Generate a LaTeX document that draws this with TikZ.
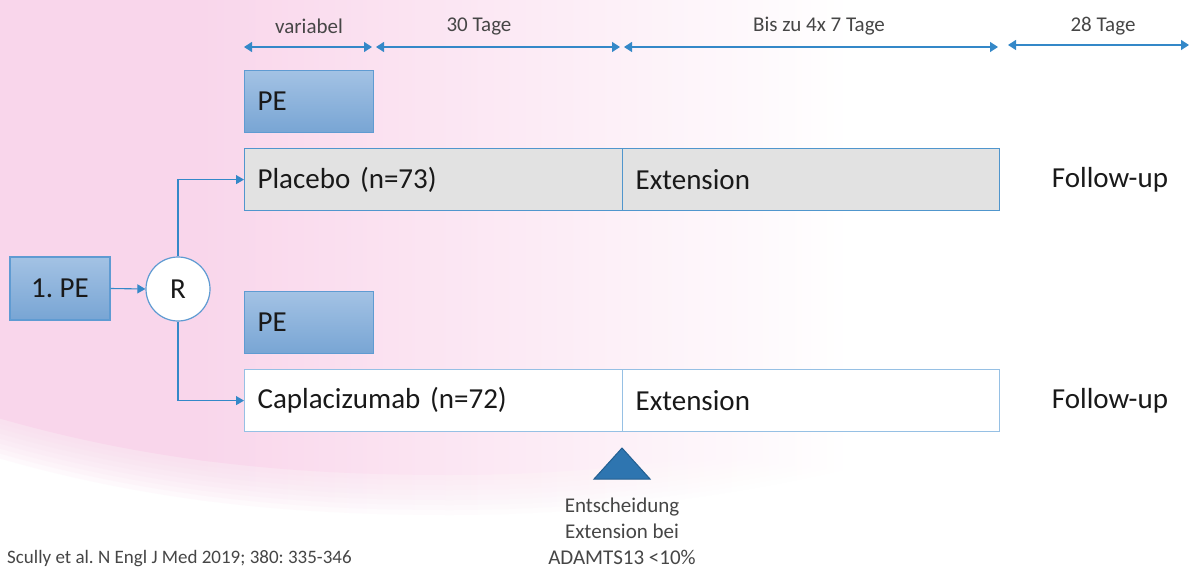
\documentclass[tikz,border=0pt]{standalone}
\usepackage{fontspec}
\setmainfont{Carlito}
\usetikzlibrary{arrows.meta}
\definecolor{pinkbg}{RGB}{249,214,235}
\definecolor{arrowblue}{RGB}{52,136,200}
\definecolor{peTop}{RGB}{163,194,228}
\definecolor{peBot}{RGB}{120,165,212}
\definecolor{peBorder}{RGB}{95,155,210}
\definecolor{plBorder}{RGB}{80,150,205}
\definecolor{capBorder}{RGB}{150,192,228}
\definecolor{greyfill}{RGB}{226,226,226}
\definecolor{triFill}{RGB}{46,117,176}
\definecolor{triBorder}{RGB}{35,95,145}
\definecolor{txt}{RGB}{25,25,25}
\definecolor{txtlight}{RGB}{70,70,70}
\frenchspacing
\begin{document}
\begin{tikzpicture}[x=1pt,y=-1pt,
  bigfont/.style={font=\fontsize{29}{34}\selectfont, text=txt},
  dimfont/.style={font=\fontsize{21}{25}\selectfont, text=txtlight},
  smallfont/.style={font=\fontsize{21}{26}\selectfont, text=txtlight},
  conn/.style={draw=arrowblue, line width=1.1pt, -{Triangle[length=8pt,width=9pt]}},
  dimarrow/.style={draw=arrowblue, line width=1.2pt, {Triangle[length=8pt,width=10pt]}-{Triangle[length=8pt,width=10pt]}},
  pebox/.style={bigfont, draw=peBorder, line width=1.2pt, top color=peTop, bottom color=peBot,
     minimum height=62pt, inner xsep=13pt, inner ysep=0pt, align=left, anchor=north west},
  armbox/.style={bigfont, line width=1.2pt, minimum height=62pt, inner xsep=13pt, inner ysep=0pt,
     align=left, anchor=north west}
]
\useasboundingbox (0,0) rectangle (1190,569);
% background
\fill[white] (0,0) rectangle (1190,569);
\foreach \d/\o in {40/0.13, 35/0.13, 30/0.13, 25/0.13, 20/0.13, 15/0.13, 10/0.13, 5/0.13, 0/1} {
  \begin{scope}[transparency group, opacity=\o]
    \clip[shift={(0,\d-30)}] (-60,-60) -- (-60,430) .. controls (120,490) and (280,505) .. (450,505)
       .. controls (650,505) and (850,470) .. (1050,400) -- (1050,-60) -- cycle;
    \fill[pinkbg] (-60,-60) rectangle (210,600);
    \shade[left color=pinkbg, right color=white] (200,-60) rectangle (850,600);
  \end{scope}
}
% timeline arrows
\coordinate (a0) at (244,47);
\coordinate (a1) at (372,47);
\coordinate (b0) at (376,47);
\coordinate (b1) at (620,47);
\coordinate (c0) at (624,47);
\coordinate (c1) at (998,47);
\coordinate (d0) at (1008,45);
\coordinate (d1) at (1189,45);
\draw[dimarrow] (a0) -- (a1);
\draw[dimarrow] (b0) -- (b1);
\draw[dimarrow] (c0) -- (c1);
\draw[dimarrow] (d0) -- (d1);
\node[dimfont] (la) at (309,26) {variabel};
\node[dimfont] (lb) at (479,26) {30 Tage};
\node[dimfont] (lc) at (819,26) {Bis zu 4x 7 Tage};
\node[dimfont] (ld) at (1103,26) {28 Tage};
% boxes
\node[pebox, text width=103pt] (peA) at (244,70) {PE};
\node[armbox, draw=plBorder, fill=greyfill, text width=352pt] (plac) at (244,148) {Placebo (n=73)};
\node[armbox, draw=plBorder, fill=greyfill, text width=351pt] (extA) at (622,148) {Extension};
\node[pebox, text width=103pt] (peB) at (244,291) {PE};
\node[armbox, draw=capBorder, fill=white, text width=352pt] (capl) at (244,369) {Caplacizumab (n=72)};
\node[armbox, draw=capBorder, fill=white, text width=351pt] (extB) at (622,369) {Extension};
\node[bigfont] (fuA) at (1110,180) {Follow-up};
\node[bigfont] (fuB) at (1110,401) {Follow-up};
% start
\node[bigfont, draw=peBorder, line width=1.2pt, top color=peTop, bottom color=peBot,
      minimum width=100pt, minimum height=63pt, inner sep=0pt] (pe0) at (60,288.5) {1. PE};
\node[bigfont, circle, draw=peBorder, line width=1.2pt, fill=white, minimum size=64pt, inner sep=0pt] (R) at (178,289) {R};
\draw[conn] (pe0.east) -- (R.west);
\draw[conn] (R.north) |- (plac.west);
\draw[conn] (R.south) |- (capl.west);
% decision marker
\coordinate (tl) at (594,479);
\coordinate (tt) at (622,448);
\coordinate (tr) at (650,479);
\draw[fill=triFill, draw=triBorder, line width=1pt, line join=miter] (tl) -- (tt) -- (tr) -- cycle;
\node[smallfont, align=center] (dec) at (622,531) {Entscheidung\\Extension bei\\ADAMTS13 <10\%};
\node[font=\fontsize{19}{23}\selectfont, text=txtlight, anchor=west, inner sep=0pt] (ref) at (7,559) {Scully et al. N Engl J Med 2019; 380: 335-346};
\end{tikzpicture}
\end{document}
